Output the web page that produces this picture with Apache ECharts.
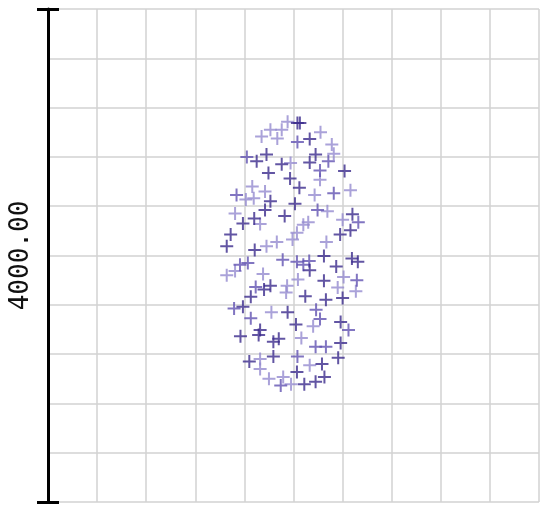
<!DOCTYPE html>
<html>
<head>
<meta charset="utf-8">
<script src="https://cdn.jsdelivr.net/npm/echarts@6/dist/echarts.min.js"></script>
<style>
  html, body { margin: 0; padding: 0; background: #fff; }
  #chart { width: 550px; height: 514px; }
</style>
</head>
<body>
<div id="chart"></div>
<script>
// points, [x, y], grouped by shade
const darkPoints = [
  [5.08, 6150], [5.13, 6150], [5.33, 5890], [4.25, 5530], [4.45, 5640], [4.76, 5480],
  [5.45, 5640], [5.33, 5510], [6.04, 5370], [4.49, 5340], [4.93, 5250], [5.12, 5100],
  [4.53, 4880], [4.42, 4740], [5.03, 4840], [3.97, 4520], [4.20, 4600], [4.82, 4640],
  [6.20, 4670], [4.21, 4090], [3.64, 4150], [3.72, 4340], [5.95, 4340], [6.16, 4410],
  [5.33, 3760], [5.62, 3990], [5.87, 3820], [6.19, 3950], [6.31, 3900], [4.40, 3450],
  [4.53, 3510], [5.62, 3590], [4.13, 3330], [5.24, 3340], [5.66, 3280], [6.00, 3310],
  [3.97, 3170], [4.88, 3080], [5.05, 2880], [5.96, 2920], [3.92, 2690], [4.32, 2790],
  [4.29, 2710], [4.59, 2600], [4.70, 2650], [5.96, 2580], [4.10, 2280], [4.59, 2360],
  [5.58, 2240], [5.91, 2340], [5.07, 2110], [5.22, 1910], [5.45, 1950], [5.63, 2030]
];
const mediumPoints = [
  [5.08, 5840], [4.05, 5600], [5.71, 5530], [5.54, 5380], [3.84, 4980], [5.82, 5010],
  [5.49, 4740], [6.32, 4540], [4.78, 3930], [5.07, 3900], [5.20, 3850], [5.32, 3910],
  [3.91, 3850], [4.07, 3880], [4.23, 3490], [6.29, 3600], [3.79, 3140], [5.46, 3120],
  [4.13, 2980], [5.54, 2970], [6.12, 2790], [5.45, 2520], [5.66, 2520], [5.08, 2360],
  [4.74, 1890]
];
const lightPoints = [
  [4.88, 6170], [4.53, 6040], [4.76, 6040], [4.35, 5930], [4.67, 5900], [5.55, 6000],
  [5.78, 5800], [4.94, 5500], [5.82, 5650], [5.54, 5230], [4.16, 5120], [4.42, 5040],
  [4.03, 4910], [4.19, 4930], [5.43, 4980], [6.16, 5060], [3.81, 4680], [5.69, 4720],
  [4.32, 4510], [5.20, 4500], [5.30, 4540], [6.00, 4580], [5.07, 4370], [4.98, 4260],
  [4.66, 4220], [4.45, 4150], [5.67, 4220], [3.81, 3750], [3.64, 3680], [4.38, 3700],
  [4.87, 3510], [4.85, 3400], [5.09, 3610], [6.02, 3650], [5.90, 3480], [6.27, 3420],
  [4.55, 3080], [5.40, 2850], [5.16, 2660], [4.32, 2320], [4.32, 2160], [5.33, 2220],
  [4.50, 2000], [4.79, 2030], [4.95, 1910]
];
const yAxisName = '4000.00';

const plus = 'path://M5.5,0h2v5.5h5.5v2h-5.5v5.5h-2v-5.5h-5.5v-2h5.5z';
const gridLine = { show: true, lineStyle: { color: '#d2d2d2', width: 1.5 } };

function scatter(data, color) {
  return {
    type: 'scatter',
    data: data,
    symbol: plus,
    symbolSize: 13,
    itemStyle: { color: color },
    silent: true
  };
}

const chart = echarts.init(document.getElementById('chart'));
chart.setOption({
  animation: false,
  backgroundColor: '#fff',
  grid: { left: 45, right: 11, top: 9, bottom: 12 },
  xAxis: {
    type: 'value', min: 0, max: 10, interval: 1,
    axisLine: { show: false }, axisTick: { show: false }, axisLabel: { show: false },
    splitLine: gridLine
  },
  yAxis: [
    {
      type: 'value', min: 0, max: 8000, interval: 800, position: 'left',
      axisLine: { show: true, lineStyle: { color: '#000', width: 3 } },
      axisTick: { show: false }, axisLabel: { show: false },
      splitLine: gridLine,
      name: yAxisName, nameLocation: 'middle', nameRotate: 90, nameGap: 14,
      nameTextStyle: { color: '#111', fontSize: 26, fontFamily: 'DejaVu Sans Mono' }
    },
    {
      type: 'value', min: 0, max: 8000, interval: 8000, position: 'left',
      axisLine: { show: false }, axisLabel: { show: false }, splitLine: { show: false },
      axisTick: { show: true, inside: false, length: 11, lineStyle: { color: '#000', width: 3 } }
    },
    {
      type: 'value', min: 0, max: 8000, interval: 8000, position: 'left',
      axisLine: { show: false }, axisLabel: { show: false }, splitLine: { show: false },
      axisTick: { show: true, inside: true, length: 11, lineStyle: { color: '#000', width: 3 } }
    }
  ],
  series: [
    scatter(lightPoints, '#958bd0'),
    scatter(mediumPoints, '#6252b2'),
    scatter(darkPoints, '#3b2a8c')
  ]
});
</script>
</body>
</html>
